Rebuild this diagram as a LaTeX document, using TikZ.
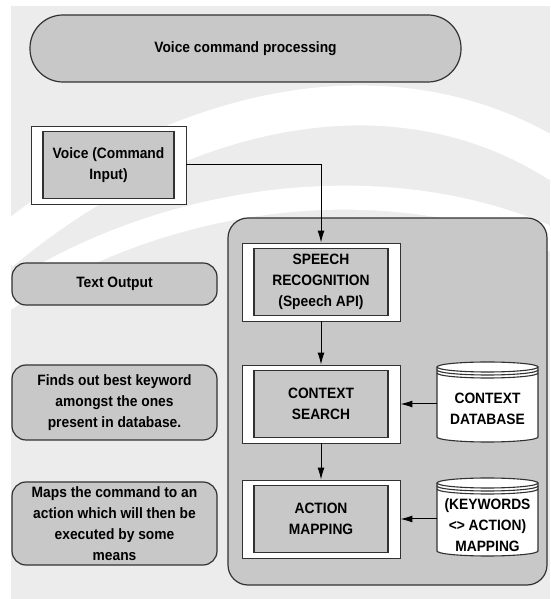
\documentclass[tikz,border=0pt]{standalone}
\usepackage{fontspec}
\setmainfont{Liberation Sans}[FakeStretch=0.92]
\usepackage{tikz}
\usetikzlibrary{positioning,arrows.meta}

\definecolor{boxgray}{RGB}{200,200,200}
\definecolor{bggray}{RGB}{236,236,236}
\definecolor{edgegray}{RGB}{50,50,50}

\tikzset{
    roundbox/.style={draw=edgegray, line width=1.2pt, fill=boxgray, rounded corners=14pt, align=center, minimum width=205pt, inner ysep=1pt},
    framebox/.style={draw=edgegray, line width=0.9pt, fill=white},
    stepbox/.style={draw=edgegray, line width=1.3pt, fill=boxgray, align=center, inner ysep=1pt},
    dbline/.style={draw=edgegray, line width=1.1pt, fill=white},
    flow/.style={-{Latex[length=12pt,width=7pt]}, line width=1pt, draw=black}
}

\begin{document}
\begin{tikzpicture}[x=1pt, y=1pt, font=\fontsize{15}{21}\selectfont\bfseries]
    \useasboundingbox (0,0) rectangle (550,599);

    % background
    \begin{scope}
        \clip (11,0) rectangle (550,593);
        \fill[bggray] (11,0) rectangle (550,593);
        \draw[white, line width=40pt] (0,348) .. controls (170,490) and (390,545) .. (560,436);
        \draw[white, line width=24pt] (0,296) .. controls (150,400) and (380,440) .. (560,356);
    \end{scope}

    \node[roundbox, minimum width=431pt, minimum height=67pt, rounded corners=33pt] (title) at (245.5,550.5) {Voice command processing};

    \node[framebox, minimum width=155pt, minimum height=78pt] (voiceFrame) at (108.5,434) {};
    \node[stepbox, minimum width=131pt, minimum height=67pt] (voice) at (108.5,434) {Voice (Command\\Input)};

    \node[roundbox, minimum width=319pt, minimum height=367pt, rounded corners=20pt] (engine) at (387.5,197.5) {};

    \node[framebox, minimum width=158pt, minimum height=78pt] (speechFrame) at (321,317) {};
    \node[stepbox, minimum width=134pt, minimum height=67pt] (speech) at (321,317) {SPEECH\\RECOGNITION\\(Speech API)};
    \node[framebox, minimum width=158pt, minimum height=78pt] (contextFrame) at (321,195) {};
    \node[stepbox, minimum width=134pt, minimum height=67pt] (context) at (321,195) {CONTEXT\\SEARCH};
    \node[framebox, minimum width=158pt, minimum height=78pt] (actionFrame) at (321,80) {};
    \node[stepbox, minimum width=134pt, minimum height=67pt] (action) at (321,80) {ACTION\\MAPPING};

    % databases
    \draw[dbline] (437,162) -- (437,232) arc[start angle=180, end angle=0, x radius=50.5, y radius=5] -- (538,162) arc[start angle=0, end angle=-180, x radius=50.5, y radius=5] -- cycle;
    \draw[dbline, fill=none] (437,232) arc[start angle=180, end angle=360, x radius=50.5, y radius=5];
    \draw[dbline, fill=none] (437,229) arc[start angle=180, end angle=360, x radius=50.5, y radius=5];
    \draw[dbline, fill=none] (437,226) arc[start angle=180, end angle=360, x radius=50.5, y radius=5];
    \node[minimum width=101pt, minimum height=60pt, align=center, inner ysep=1pt] (contextDb) at (487.5,190) {CONTEXT\\DATABASE};

    \draw[dbline] (437,48) -- (437,116) arc[start angle=180, end angle=0, x radius=50.5, y radius=5] -- (538,48) arc[start angle=0, end angle=-180, x radius=50.5, y radius=5] -- cycle;
    \draw[dbline, fill=none] (437,116) arc[start angle=180, end angle=360, x radius=50.5, y radius=5];
    \draw[dbline, fill=none] (437,113) arc[start angle=180, end angle=360, x radius=50.5, y radius=5];
    \draw[dbline, fill=none] (437,110) arc[start angle=180, end angle=360, x radius=50.5, y radius=5];
    \node[minimum width=101pt, minimum height=60pt, align=center, inner ysep=1pt] (mappingDb) at (487.5,74) {(KEYWORDS\\<> ACTION)\\MAPPING};

    % notes
    \node[roundbox, minimum height=42pt] (textOut) at (114.5,315) {Text Output};
    \node[roundbox, minimum height=75pt] (keyword) at (114.5,196.5) {Finds out best keyword\\amongst the ones\\present in database.};
    \node[roundbox, minimum height=83pt] (mapsTo) at (114.5,75.5) {Maps the command to an\\action which will then be\\executed by some\\means};

\draw[flow] (voiceFrame.east) -| (speechFrame.north);
\draw[flow] (speechFrame) -- (contextFrame);
\draw[flow] (contextFrame) -- (actionFrame);
\draw[flow] (contextDb.west |- contextFrame.east) -- (contextFrame.east);
\draw[flow] (mappingDb.west |- actionFrame.east) -- (actionFrame.east);

\end{tikzpicture}
\end{document}
